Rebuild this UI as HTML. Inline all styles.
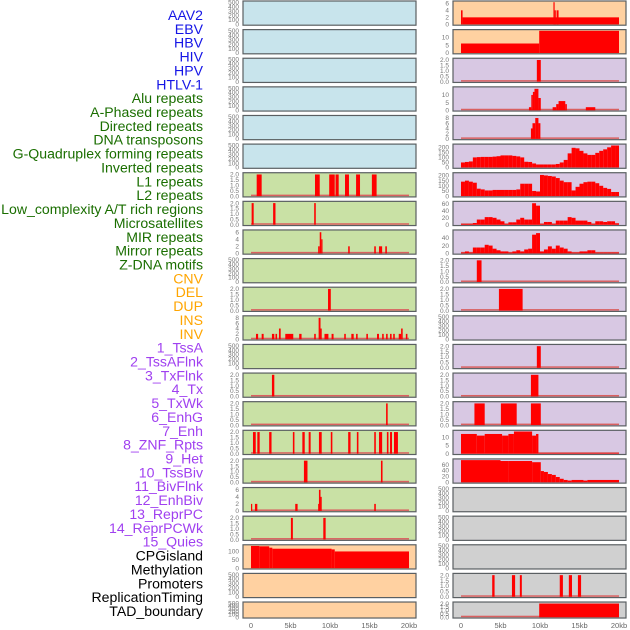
<!DOCTYPE html>
<html><head><meta charset="utf-8"><style>
html,body{margin:0;padding:0;background:#fff;}
svg{display:block;font-family:"Liberation Sans",sans-serif;}
</style></head><body>
<svg id="chart" width="630" height="630" viewBox="0 0 630 630"></svg>
<script>
// ---- data ----
const trackLabels = ["AAV2","EBV","HBV","HIV","HPV","HTLV-1","Alu repeats","A-Phased repeats","Directed repeats","DNA transposons","G-Quadruplex forming repeats","Inverted repeats","L1 repeats","L2 repeats","Low_complexity A/T rich regions","Microsatellites","MIR repeats","Mirror repeats","Z-DNA motifs","CNV","DEL","DUP","INS","INV","1_TssA","2_TssAFlnk","3_TxFlnk","4_Tx","5_TxWk","6_EnhG","7_Enh","8_ZNF_Rpts","9_Het","10_TssBiv","11_BivFlnk","12_EnhBiv","13_ReprPC","14_ReprPCWk","15_Quies","CPGisland","Methylation","Promoters","ReplicationTiming","TAD_boundary"];
const labelGroups = [6,13,5,15,5];
const groupColors = ["#1515e6","#1a6e00","#ffa500","#a040f0","#000000"];
const xTickKb = [0,5,10,15,20];
const xTickLabels = ["0","5kb","10kb","15kb","20kb"];

// left column segments [startKb, endKb, value]
const leftL1 = [[0.72,1.35,2],[8.1,8.7,2],[9.9,10.6,2],[10.7,11.1,2],[11.9,12.4,2],[13.3,13.8,2],[15.3,15.9,2]];
const leftL2 = [[0.08,0.34,2],[2.8,3.1,2],[8.0,8.2,2]];
const leftMIR = [[8.5,8.7,2],[8.7,8.9,6],[8.9,9.05,4],[12.3,12.5,2],[15.6,15.8,2],[16.2,16.6,2],[17.0,17.2,2]];
const leftDEL = [[9.75,10.1,2]];
const leftINV = [[0.63,0.9,2],[1.35,1.6,2],[2.65,2.95,2],[3.1,3.3,2],[3.54,3.76,4],[4.34,5.35,2],[6.1,6.4,2],[8.0,8.2,2],[8.56,8.8,8],[8.8,8.95,4],[9.3,9.8,2],[10.2,10.45,2],[11.8,12.0,2],[12.7,13.0,2],[13.3,13.5,2],[14.6,14.8,2],[15.95,16.2,2],[16.6,16.8,2],[17.1,17.3,2],[17.6,17.8,2],[18.0,18.2,2],[18.7,19.0,2],[19.0,19.2,4],[19.6,19.8,2]];
const leftTssAFlnk = [[2.65,2.95,2]];
const leftTxFlnk = [[17.1,17.3,2]];
const leftTxWk = [[0.25,0.6,2],[0.8,1.1,2],[2.3,2.6,2],[5.3,5.5,2],[6.5,6.8,2],[7.3,7.55,2],[8.6,8.95,2],[10.1,10.3,2],[12.3,12.6,2],[13.4,13.6,2],[15.6,15.8,2],[16.2,16.6,2],[17.2,17.4,2],[17.6,17.85,2],[18.1,18.6,2]];
const leftEnh = [[6.7,7.15,2],[16.45,16.65,2]];
const leftHet = [[0,0.15,2],[0.5,0.8,2],[5.6,5.9,2],[8.5,8.6,2],[8.6,8.8,6],[8.8,8.95,4],[15.6,15.8,2]];
const leftBivFlnk = [[5.05,5.3,2],[9.15,9.45,2]];
const leftCpG = [[0,1.05,130],[1.05,2.3,128],[2.3,2.7,120],[2.7,10.2,114],[10.2,10.6,110],[10.6,20,98]];

// right column
const rightAAV2 = [[0,0.2,4],[0.2,20,2],[11.7,11.85,6.3],[11.85,11.95,4],[12.1,12.35,4]];
const rightEBV = [[0,9.9,6],[9.9,20,14]];
const rightHBV = [[9.6,10.1,2]];
const rightHPV = [[8.6,8.9,2],[8.9,9.1,10],[9.1,9.3,12],[9.3,9.8,14],[9.8,10.1,8],[11.6,12.05,2],[12.05,12.35,4],[12.35,13.2,6],[13.2,13.4,4],[15.8,17.0,2]];
const rightHTLV = [[8.85,9.05,4],[9.05,9.4,6],[9.4,9.8,8],[9.8,10.05,6]];
const rightGquadBins = [50,55,60,100,103,105,105,105,108,112,120,120,120,115,110,100,57,55,40,30,30,30,30,30,35,50,75,140,195,190,165,140,125,125,145,165,180,200,218,218];
const rightInvertedBins = [140,150,140,130,72,65,55,55,60,60,60,60,60,60,65,120,120,120,50,45,205,200,195,190,175,150,135,135,55,90,120,135,140,140,125,100,80,70,40,40];
const rightLowCompBins = [2,2,2,5,15,15,22,22,20,15,10,2,7,7,15,20,15,15,62,55,2,8,8,2,12,12,12,22,20,12,12,12,8,2,10,10,8,10,10,4];
const rightMicroBins = [2,5,2,15,15,15,22,20,12,8,5,5,2,5,8,5,10,12,48,52,5,10,18,12,20,15,12,5,2,2,5,5,8,8,2,2,2,2,2,2];
const rightCNV = [[2.0,2.6,2]];
const rightDEL = [[4.8,7.8,2]];
const rightINS = [[9.6,10.1,2]];
const rightTssA = [[8.85,9.8,2]];
const rightTssAFlnk = [[1.7,3.0,2],[5.05,7.05,2],[8.85,10.1,2]];
const rightTxFlnk = [[0,2,12],[2,3,11],[3,5.2,12],[5.2,6,11],[6,6.7,12],[6.7,9,13.5],[9,9.5,11],[9.5,9.8,12],[9.8,20,0.3]];
const rightTx = [[0,5,75],[5,6,72],[6,9,72],[9,10.1,68],[10.1,10.5,38],[10.5,11,35],[11,11.5,28],[11.5,12,25],[12,12.5,18],[12.5,13,12],[13,13.5,8],[13.5,14,6],[14,15.5,8],[15.5,16,6],[16,20,8]];
const rightPromoters = [[3.95,4.25,2],[6.45,6.85,2],[7.45,7.7,2],[12.5,12.9,2],[13.65,14.05,2],[14.8,15.2,2]];
const rightTAD = [[9.9,20,2]];

const ticks500 = [0,100,200,300,400,500];
const ticks2 = [0,0.5,1,1.5,2];
const ticks6 = [0,2,4,6];
const ticks8 = [0,2,4,6,8];
const ticks10 = [0,5,10];
const ticks200 = [0,50,100,150,200];
const ticks60 = [0,20,40,60];
const ticks40 = [0,20,40];
const ticks100 = [0,50,100];

const C = {blue:"#c8e4ec",green:"#c9e1a5",orange:"#ffd1a1",purple:"#d8c8e3",gray:"#d0d0d0"};
function bins(a){return a.map((v,i)=>[i*0.5,i*0.5+0.5,v]);}

const leftPanels = [
 {bg:C.blue,ymax:500,ticks:ticks500,data:[]},{bg:C.blue,ymax:500,ticks:ticks500,data:[]},
 {bg:C.blue,ymax:500,ticks:ticks500,data:[]},{bg:C.blue,ymax:500,ticks:ticks500,data:[]},
 {bg:C.blue,ymax:500,ticks:ticks500,data:[]},{bg:C.blue,ymax:500,ticks:ticks500,data:[]},
 {bg:C.green,ymax:2.05,ticks:ticks2,data:leftL1,base:1},
 {bg:C.green,ymax:2.05,ticks:ticks2,data:leftL2,base:1},
 {bg:C.green,ymax:6.3,ticks:ticks6,data:leftMIR,base:1},
 {bg:C.green,ymax:500,ticks:ticks500,data:[]},
 {bg:C.green,ymax:2.05,ticks:ticks2,data:leftDEL,base:1},
 {bg:C.green,ymax:8.3,ticks:ticks8,data:leftINV,base:1},
 {bg:C.green,ymax:500,ticks:ticks500,data:[]},
 {bg:C.green,ymax:2.05,ticks:ticks2,data:leftTssAFlnk,base:1},
 {bg:C.green,ymax:2.05,ticks:ticks2,data:leftTxFlnk,base:1},
 {bg:C.green,ymax:2.05,ticks:ticks2,data:leftTxWk,base:1},
 {bg:C.green,ymax:2.05,ticks:ticks2,data:leftEnh,base:1},
 {bg:C.green,ymax:6.3,ticks:ticks6,data:leftHet,base:1},
 {bg:C.green,ymax:2.05,ticks:ticks2,data:leftBivFlnk,base:1},
 {bg:C.orange,ymax:130,ticks:ticks100,data:leftCpG},
 {bg:C.orange,ymax:500,ticks:ticks500,data:[]},
 {bg:C.orange,ymax:500,ticks:ticks500,data:[]}
];
const rightPanels = [
 {bg:C.orange,ymax:6.3,ticks:ticks6,data:rightAAV2},
 {bg:C.orange,ymax:14,ticks:ticks10,data:rightEBV},
 {bg:C.purple,ymax:2.05,ticks:ticks2,data:rightHBV,base:1},
 {bg:C.purple,ymax:14.5,ticks:ticks10,data:rightHPV,base:1},
 {bg:C.purple,ymax:8.5,ticks:ticks8,data:rightHTLV,base:1},
 {bg:C.purple,ymax:220,ticks:ticks200,data:bins(rightGquadBins)},
 {bg:C.purple,ymax:215,ticks:ticks200,data:bins(rightInvertedBins)},
 {bg:C.purple,ymax:64,ticks:ticks60,data:bins(rightLowCompBins),base:1},
 {bg:C.purple,ymax:57,ticks:ticks40,data:bins(rightMicroBins),base:1},
 {bg:C.purple,ymax:2.05,ticks:ticks2,data:rightCNV,base:1},
 {bg:C.purple,ymax:2.05,ticks:ticks2,data:rightDEL,base:1},
 {bg:C.purple,ymax:500,ticks:ticks500,data:[]},
 {bg:C.purple,ymax:2.05,ticks:ticks2,data:rightINS,base:1},
 {bg:C.purple,ymax:2.05,ticks:ticks2,data:rightTssA,base:1},
 {bg:C.purple,ymax:2.05,ticks:ticks2,data:rightTssAFlnk,base:1},
 {bg:C.purple,ymax:13.5,ticks:ticks10,data:rightTxFlnk,base:1},
 {bg:C.purple,ymax:75,ticks:ticks60,data:rightTx},
 {bg:C.gray,ymax:500,ticks:ticks500,data:[]},
 {bg:C.gray,ymax:500,ticks:ticks500,data:[]},
 {bg:C.gray,ymax:500,ticks:ticks500,data:[]},
 {bg:C.gray,ymax:2.05,ticks:ticks2,data:rightPromoters,base:1},
 {bg:C.gray,ymax:2.05,ticks:ticks2,data:rightTAD,base:1}
];

// ---- drawing ----
const svg = document.getElementById('chart');
const NS = "http://www.w3.org/2000/svg";
function mk(tag, attrs, parent){const e=document.createElementNS(NS,tag);for(const k in attrs)e.setAttribute(k,attrs[k]);(parent||svg).appendChild(e);return e;}

// labels
let li=0;
labelGroups.forEach((n,g)=>{
  for(let k=0;k<n;k++){
    const t=mk('text',{x:203,y:15+li*13.86+5,'text-anchor':'end','font-size':'14.1',fill:groupColors[g]});
    t.textContent=trackLabels[li];
    
    
    li++;
  }
});

function fmt(v,ticks){return ticks===ticks2?v.toFixed(1):String(v);}
function drawColumn(panels, px0, px1, x0, kbPx, side){
  panels.forEach((p,r)=>{
    const top=1+r*28.62, h=(r===21)?16:24.2;
    const g=mk('g',{});
    
    
    mk('rect',{x:px0,y:top,width:px1-px0,height:h,fill:p.bg,stroke:'#5a5f62','stroke-width':1.2},g);
    const y0=top+h-0.8, yt=top+1.2;
    const yS=v=>y0-v/p.ymax*(y0-yt);
    const xS=kb=>x0+kb*kbPx;
    if(p.base){
      const b=mk('rect',{x:xS(0),y:y0-1.5,width:xS(20)-xS(0),height:1.5,fill:'#d96060'},g);
      
      
    }
    p.data.forEach(d=>{
      const a=xS(Math.max(0,d[0])), bb=xS(Math.min(20.1,d[1])), yy=yS(Math.min(d[2],p.ymax));
      const bar=mk('rect',{x:a,y:yy,width:Math.max(1.2,bb-a),height:y0-yy,fill:'#ff0000'},g);
      
      
    });
    p.ticks.forEach(v=>{
      if(v>p.ymax*1.02)return;
      const t=mk('text',{x:px0-4,y:yS(v)+2.2,'text-anchor':'end','font-size':'6.5',fill:'#777'},g);
      t.textContent=fmt(v,p.ticks);
      
      
    });
  });
  xTickKb.forEach((kb,i)=>{
    const t=mk('text',{x:x0+kb*kbPx,y:628,'text-anchor':'middle','font-size':'7.5',fill:'#666'});
    t.textContent=xTickLabels[i];
    
    
  });
}
drawColumn(leftPanels,243,416,251,7.9,'left');
drawColumn(rightPanels,453,626,461,7.9,'right');
</script>
</body></html>
